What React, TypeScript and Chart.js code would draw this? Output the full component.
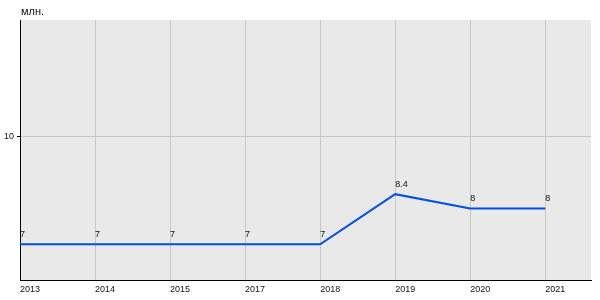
import React, { useEffect, useRef } from "react";
import { Chart, registerables } from "chart.js";

Chart.register(...registerables);

const categories = ["2013", "2014", "2015", "2017", "2018", "2019", "2020", "2021"];
const values = [7, 7, 7, 7, 7, 8.4, 8, 8];
const yTicks = [10];
const unitLabel = "млн.";

const FONT = "Arial, 'Liberation Sans', sans-serif";

export default function App() {
  const ref = useRef<HTMLCanvasElement | null>(null);

  useEffect(() => {
    document.body.style.margin = "0";
    const canvas = ref.current;
    if (!canvas) return;

    const bgPlugin = {
      id: "bgAndLabels",
      beforeDraw(chart: any) {
        const { ctx, chartArea } = chart;
        ctx.save();
        ctx.fillStyle = "#e9e9e9";
        ctx.fillRect(chartArea.left, chartArea.top, chartArea.right - chartArea.left, chartArea.bottom - chartArea.top);
        ctx.restore();
      },
      afterDatasetsDraw(chart: any) {
        const { ctx, chartArea } = chart;
        const meta = chart.getDatasetMeta(0);
        ctx.save();
        ctx.font = `9px ${FONT}`;
        ctx.fillStyle = "#111";
        ctx.textAlign = "left";
        ctx.textBaseline = "alphabetic";
        meta.data.forEach((pt: any, i: number) => {
          ctx.fillText(String(values[i]), pt.x, pt.y - 7);
        });
        ctx.font = `11px ${FONT}`;
        ctx.textBaseline = "middle";
        ctx.fillText(unitLabel, chartArea.left + 1, 12);
        ctx.restore();
      },
    };

    const chart = new Chart(canvas, {
      type: "line",
      data: {
        datasets: [
          {
            data: values.map((v, i) => ({ x: i, y: v })),
            borderColor: "#0050e0",
            borderWidth: 2,
            pointRadius: 0,
            tension: 0,
            fill: false,
          },
        ],
      },
      options: {
        animation: false,
        responsive: false,
        devicePixelRatio: 1,
        layout: { padding: { top: 20, right: 9, left: 0, bottom: 0 } },
        plugins: { legend: { display: false }, tooltip: { enabled: false } },
        scales: {
          x: {
            type: "linear",
            min: 0,
            max: 7.61,
            afterBuildTicks: (scale: any) => {
              scale.ticks = categories.map((_, i) => ({ value: i }));
            },
            afterFit: (scale: any) => {
              scale.height = 20;
            },
            grid: { color: "#c8c8c8", drawTicks: false, lineWidth: 1 },
            border: { color: "#000", width: 1 },
            ticks: {
              autoSkip: false,
              maxRotation: 0,
              align: "start",
              padding: 4,
              color: "#111",
              font: { size: 9, family: FONT },
              callback: (v: any) => categories[v] ?? "",
            },
          },
          y: {
            type: "linear",
            min: 6,
            max: 13.27,
            afterBuildTicks: (scale: any) => {
              scale.ticks = yTicks.map((v) => ({ value: v }));
            },
            afterFit: (scale: any) => {
              scale.width = 20;
            },
            grid: { color: "#c8c8c8", tickColor: "#000", tickLength: 3, drawTicks: true, lineWidth: 1 },
            border: { color: "#000", width: 1 },
            ticks: {
              padding: 3,
              color: "#111",
              font: { size: 9, family: FONT },
            },
          },
        },
      },
      plugins: [bgPlugin],
    } as any);

    return () => chart.destroy();
  }, []);

  return <canvas ref={ref} width={600} height={300} style={{ display: "block", width: 600, height: 300 }} />;
}
